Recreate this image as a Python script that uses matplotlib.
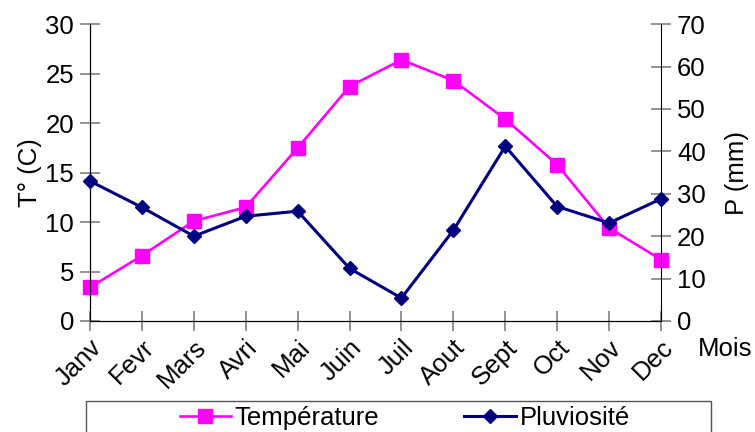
import matplotlib.pyplot as plt
from matplotlib.patches import Rectangle

plt.rcParams['font.family'] = ['Liberation Sans', 'DejaVu Sans']

# Diagramme ombrothermique : températures et précipitations mensuelles
mois = ['Janv', 'Fevr', 'Mars', 'Avri', 'Mai', 'Juin', 'Juil', 'Aout',
        'Sept', 'Oct', 'Nov', 'Dec']
temperature = [3.4, 6.6, 10.1, 11.5, 17.5, 23.7, 26.4, 24.3, 20.4, 15.8, 9.4, 6.2]
pluviosite = [33.0, 26.8, 20.0, 24.7, 25.9, 12.4, 5.4, 21.4, 41.2, 27.0, 23.1, 28.8]

x = list(range(len(mois)))
fs = 18.5

fig = plt.figure(figsize=(7.55, 4.32), dpi=100)
ax = fig.add_axes([0.1192, 0.257, 0.7563, 0.687])
ax2 = ax.twinx()

ax.plot(x, temperature, color='#FF00FF', lw=1.9, marker='s', ms=10,
        clip_on=False, label='Température', zorder=3)
ax2.plot(x, pluviosite, color='#000080', lw=2.2, marker='D', ms=7.6,
         clip_on=False, label='Pluviosité', zorder=3)

ax.set_xlim(0, 11)
ax.set_ylim(0, 30)
ax2.set_ylim(0, 70)
ax.set_yticks(range(0, 31, 5))
ax2.set_yticks(range(0, 71, 10))
ax.set_xticks(x)
ax.set_xticklabels(mois, rotation=45, ha='right', rotation_mode='anchor')

for a in (ax, ax2):
    a.spines['top'].set_visible(False)
    a.tick_params(direction='inout', length=15, width=1.2, color='#808080',
                  labelsize=fs, pad=4)
ax.spines['right'].set_visible(False)
ax.tick_params(axis='x', pad=3)

ax.set_ylabel('T° (C)', fontsize=fs, labelpad=2)
ax2.set_ylabel('P (mm)', fontsize=fs, labelpad=14)
fig.text(0.925, 0.193, 'Mois', fontsize=fs, ha='left', va='center')

# cadre de la légende, ouvert vers le bas
fig.patches.append(Rectangle((0.1135, -0.1), 0.8285, 0.172,
                             transform=fig.transFigure, fill=False,
                             edgecolor='#555555', lw=1))
h1, l1 = ax.get_legend_handles_labels()
h2, l2 = ax2.get_legend_handles_labels()
fig.legend(h1 + h2, l1 + l2, loc='center', bbox_to_anchor=(0.536, 0.033),
           ncol=2, frameon=False, fontsize=fs, handlelength=2.0,
           handletextpad=0.15, columnspacing=3.3)

fig.savefig('out.png', dpi=100)
